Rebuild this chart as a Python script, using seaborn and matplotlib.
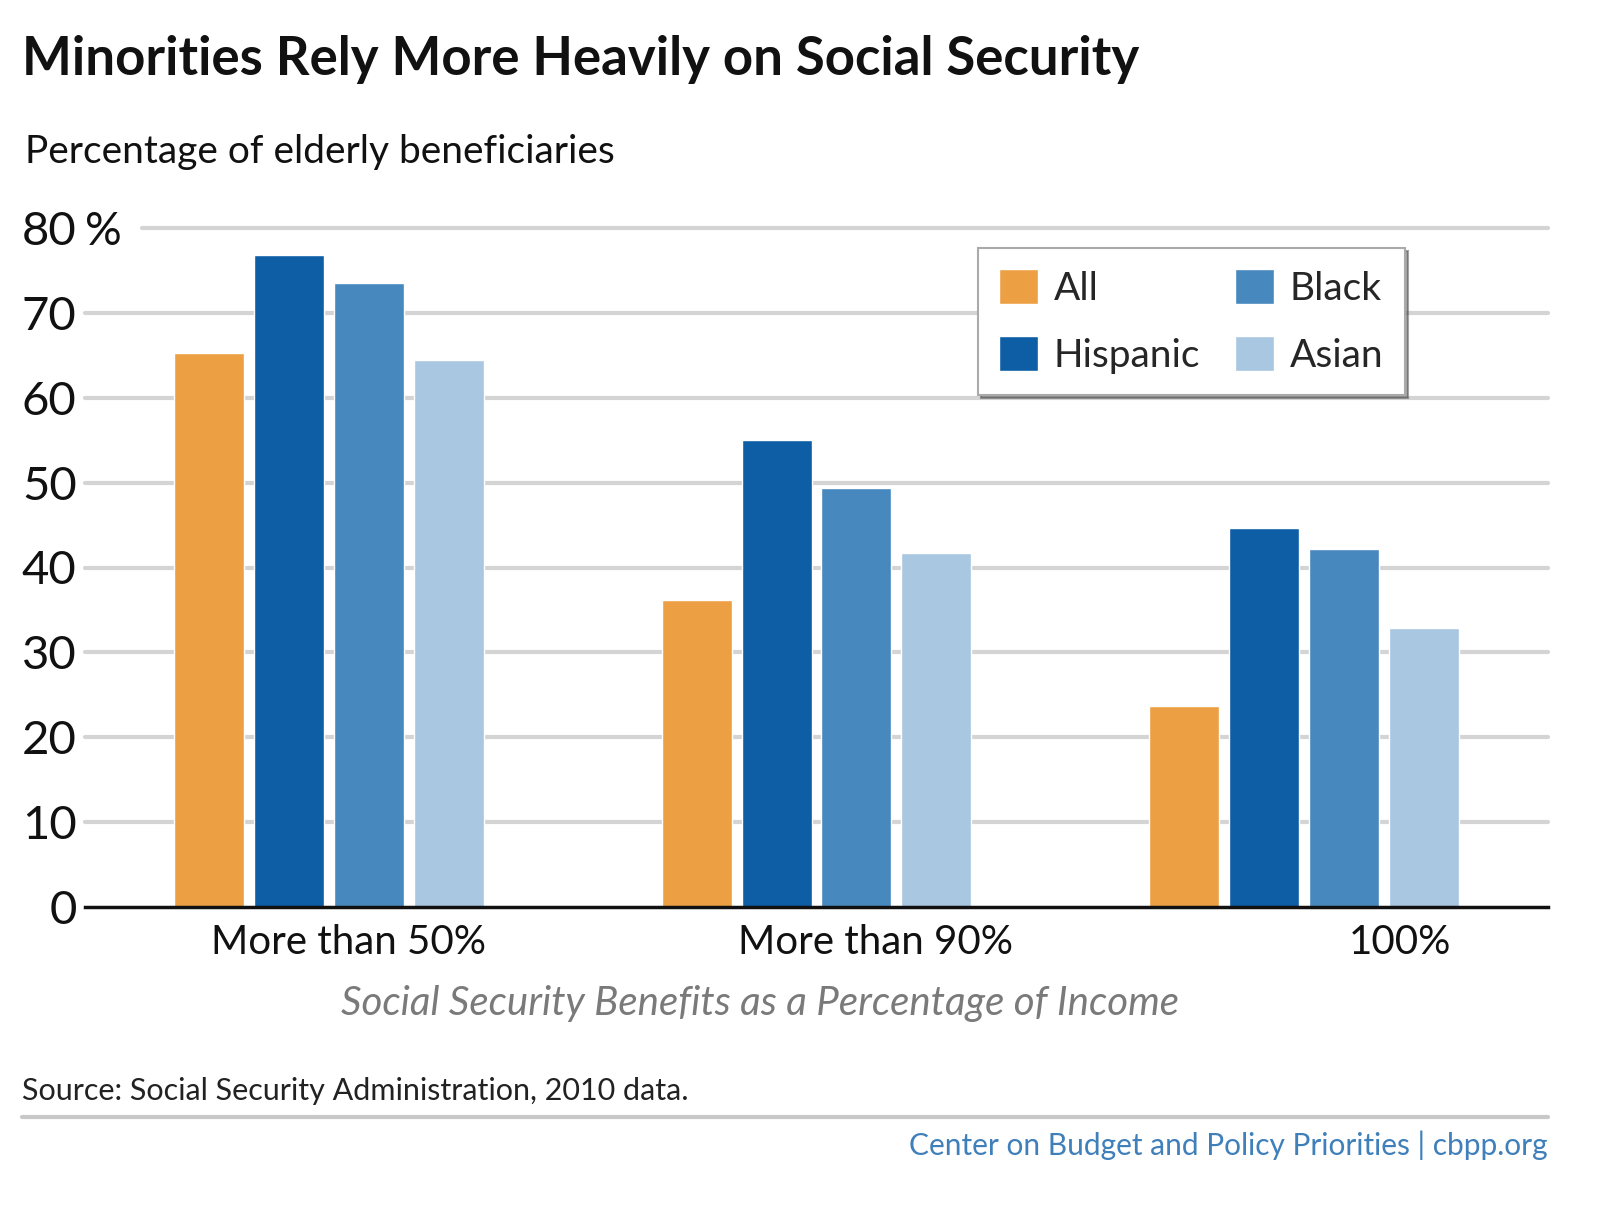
import matplotlib
matplotlib.use("Agg")
import matplotlib.pyplot as plt
import seaborn as sns
import pandas as pd
from matplotlib.lines import Line2D

categories = ["More than 50%", "More than 90%", "100%"]
groups = ["All", "Hispanic", "Black", "Asian"]
all_vals = [65.3, 36.2, 23.7]
hispanic_vals = [76.8, 55.0, 44.6]
black_vals = [73.5, 49.4, 42.2]
asian_vals = [64.4, 41.7, 32.9]
yticks = [0, 10, 20, 30, 40, 50, 60, 70, 80]
palette = ["#ECA043", "#0E5EA6", "#4788BF", "#A9C7E1"]

rows = []
for g, vals in zip(groups, [all_vals, hispanic_vals, black_vals, asian_vals]):
    for c, v in zip(categories, vals):
        rows.append({"cat": c, "group": g, "value": v})
df = pd.DataFrame(rows)

sns.set_theme(style="white")
FONT = ["Lato", "DejaVu Sans"]
plt.rcParams["font.family"] = FONT

fig = plt.figure(figsize=(16, 12.12), dpi=100)
ax = fig.add_axes([85 / 1600, 1 - 907 / 1212, 1463 / 1600, 679 / 1212])

sns.barplot(data=df, x="cat", y="value", hue="group", hue_order=groups,
            order=categories, palette=palette, width=0.656, gap=0.125,
            saturation=1, ax=ax, zorder=3, legend=True)

ax.set_xlim(-0.5, 2.5)
ax.set_ylim(0, 80)
ax.set_yticks(yticks)
ax.set_yticklabels([str(t) for t in yticks])
for t in yticks[1:]:
    xmin = 57 / 1463 if t == 80 else 0
    ax.axhline(t, xmin=xmin, xmax=1, color="#d4d4d4", lw=3, zorder=1, clip_on=False)
ax.annotate("%", xy=(0, 80), xycoords=("axes fraction", "data"),
            xytext=(0, 0), textcoords="offset points", ha="left", va="center_baseline",
            fontsize=33, color="#111111")

for s in ["left", "right", "top"]:
    ax.spines[s].set_visible(False)
ax.spines["bottom"].set_color("#111111")
ax.spines["bottom"].set_linewidth(2.5)
ax.spines["bottom"].set_zorder(4)

ax.tick_params(axis="y", length=0, pad=6, labelsize=34, labelcolor="#111111")
ax.tick_params(axis="x", length=0, pad=12, labelsize=29, labelcolor="#111111")
ax.set_xticks([0.041, 1.122, 2.197])
ax.set_xticklabels(categories)
ax.set_xlabel("")
ax.set_ylabel("")

leg = ax.legend(ncol=2, loc="upper left", bbox_to_anchor=(978 / 1600, 1 - 248 / 1212),
                bbox_transform=fig.transFigure, fontsize=28, frameon=True,
                fancybox=False, shadow=True, edgecolor="#aaaaaa",
                handlelength=1.0, handleheight=1.0, handletextpad=0.4,
                columnspacing=0.9, labelspacing=0.75, borderpad=0.55, borderaxespad=0)
leg.get_frame().set_linewidth(1.5)
leg.set_zorder(10)

fig.text(22 / 1600, 1 - 75 / 1212, "Minorities Rely More Heavily on Social Security",
         fontsize=38, fontweight="bold", color="#111111", ha="left", va="baseline")
fig.text(25 / 1600, 1 - 163 / 1212, "Percentage of elderly beneficiaries",
         fontsize=28, color="#111111", ha="left", va="baseline")
fig.text(760 / 1600, 1 - 1015 / 1212, "Social Security Benefits as a Percentage of Income",
         fontsize=29, style="italic", color="#7a7a7a", ha="center", va="baseline")
fig.text(22 / 1600, 1 - 1100 / 1212, "Source: Social Security Administration, 2010 data.",
         fontsize=22, color="#222222", ha="left", va="baseline")
fig.add_artist(Line2D([22 / 1600, 1548 / 1600], [1 - 1117 / 1212, 1 - 1117 / 1212],
                      transform=fig.transFigure, color="#c8c8c8", lw=3))
fig.text(1548 / 1600, 1 - 1155 / 1212, "Center on Budget and Policy Priorities | cbpp.org",
         fontsize=21.5, color="#3f7fba", ha="right", va="baseline")

fig.savefig("out.png", dpi=100, facecolor="white")
